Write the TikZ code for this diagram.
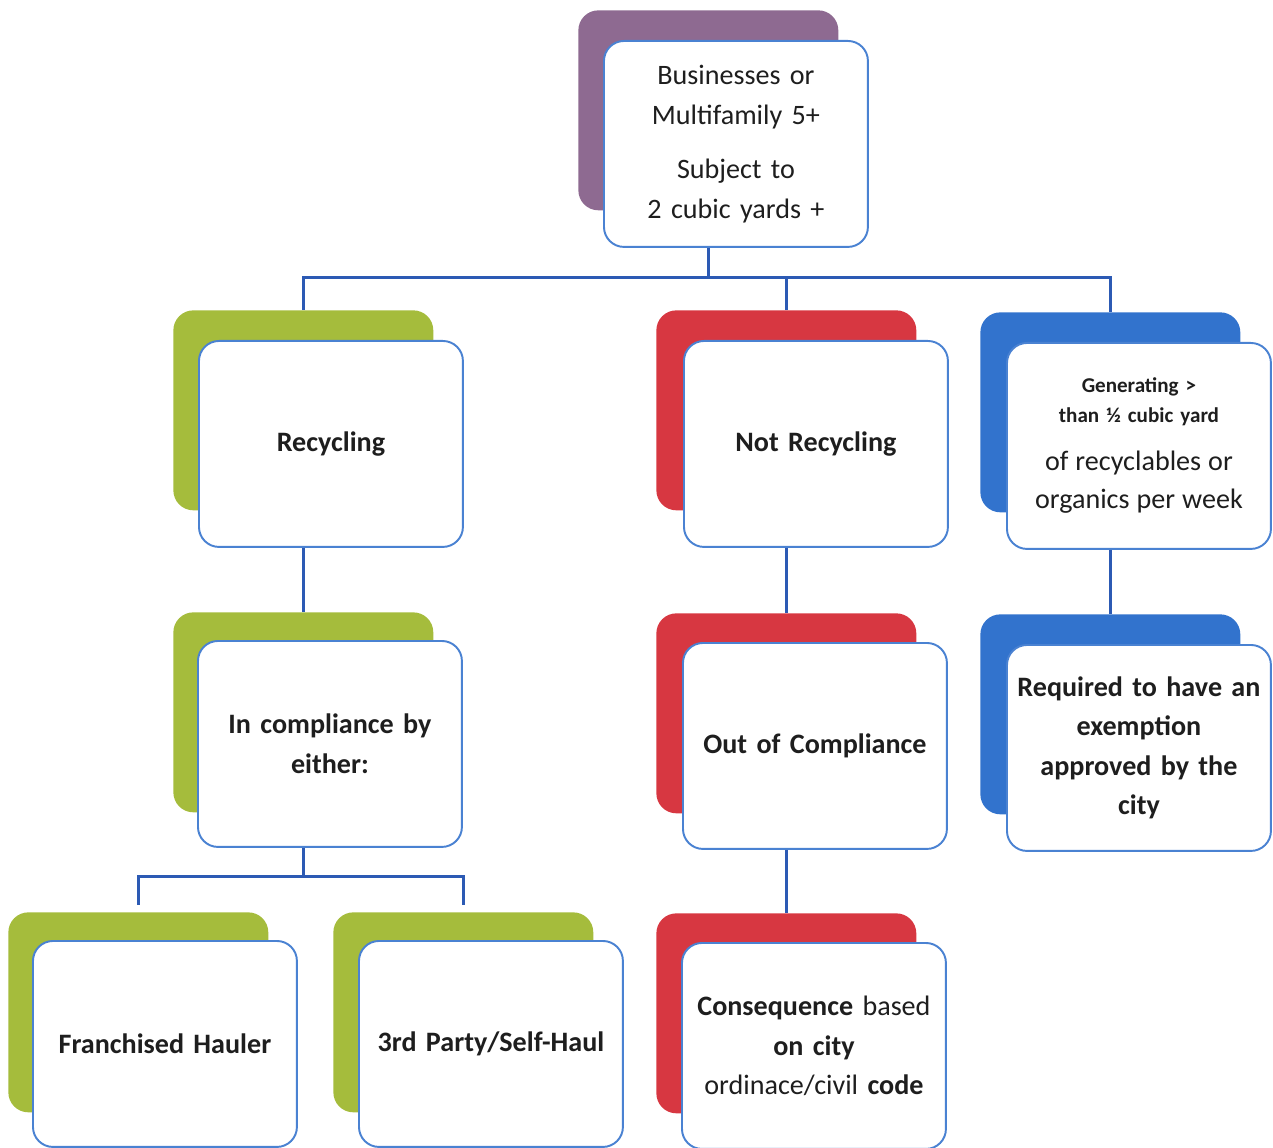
\documentclass[tikz,border=0pt]{standalone}
\usepackage{fontspec}
\usetikzlibrary{calc}
\setmainfont{Carlito}
\definecolor{cpurple}{HTML}{8E6A91}
\definecolor{cgreen}{HTML}{A5BC3C}
\definecolor{cred}{HTML}{D73741}
\definecolor{cblue}{HTML}{3273CD}
\definecolor{cline}{HTML}{2C5AB4}
\definecolor{cborder}{HTML}{4A82D2}
\definecolor{ctext}{HTML}{1E1E1E}
\tikzset{
  backbox/.style={fill=#1, draw=none, rounded corners=0.4cm, anchor=north west,
    minimum width=5.2cm, minimum height=4.0cm, inner sep=0pt},
  frontbox/.style={fill=white, draw=cborder, line width=1.1pt, rounded corners=0.4cm,
    anchor=north west, minimum width=5.28cm, minimum height=4.12cm, inner sep=1pt,
    align=center, text width=5.2cm, text=ctext,
    font=\fontsize{16}{22.5}\selectfont},
  boldtext/.style={font=\fontsize{16}{22.5}\selectfont\bfseries},
  conn/.style={draw=cline, line width=1.7pt},
}
\begin{document}
\begin{tikzpicture}[x=0.02cm,y=-0.02cm]
\useasboundingbox (0,0) rectangle (1273,1148);
\clip (0,0) rectangle (1273,1148);
% back boxes
\node[backbox=cpurple] (topb) at (578,10) {};
\node[backbox=cgreen] (recb) at (173,310) {};
\node[backbox=cred] (notb) at (656,310) {};
\node[backbox=cblue] (genb) at (980,312) {};
\node[backbox=cgreen] (inb) at (173,612) {};
\node[backbox=cred] (outb) at (656,613) {};
\node[backbox=cblue] (reqb) at (980,614) {};
\node[backbox=cgreen] (frb) at (8,912) {};
\node[backbox=cgreen] (thb) at (333,912) {};
\node[backbox=cred] (conb) at (656,913) {};
% front boxes
\node[frontbox] (topf) at (603,40) {Businesses or\\Multifamily 5+\\[0.3cm]Subject to\\2 cubic yards +};
\node[frontbox,boldtext] (recf) at (198,340) {Recycling};
\node[frontbox,boldtext] (notf) at (683,340) {Not Recycling};
\node[frontbox,font=\fontsize{12}{22}\selectfont\bfseries] (genf) at (1006,342)
  {Generating >\\[-5pt]than ½ cubic yard\\[5pt]\fontsize{16}{22}\selectfont\mdseries of recyclables or\\organics per week};
\node[frontbox,boldtext] (inf) at (197,640) {In compliance by\\either:};
\node[frontbox,boldtext] (outf) at (682,642) {Out of Compliance};
\node[frontbox,boldtext] (reqf) at (1006,644) {Required to have an\\exemption\\approved by the\\city};
\node[frontbox,boldtext] (frf) at (32,940) {Franchised Hauler};
\node[frontbox,boldtext] (thf) at (358,940) {3rd Party/Self-Haul};
\node[frontbox] (conf) at (681,942) {\textbf{Consequence} based\\\textbf{on city}\\ordinace/civil \textbf{code}};
% connectors
\coordinate (j1) at ($(topb.center |- topf.south)+(0,30)$);
\draw[conn] (topb.center |- topf.south) -- (j1);
\draw[conn] (j1) -| (recb.north);
\draw[conn] (j1) -| (genb.north);
\draw[conn] (notb.north) -- (notb.north |- j1);
\draw[conn] (inb.north |- recf.south) -- (inb.north);
\draw[conn] (outb.north |- notf.south) -- (outb.north);
\draw[conn] (reqb.north |- genf.south) -- (reqb.north);
\draw[conn] (conb.north |- outf.south) -- (conb.north);
\coordinate (j2) at ($(inb.center |- inf.south)+(0,29)$);
\draw[conn] (inb.center |- inf.south) -- (j2);
\draw[conn] (j2) -| ($(frb.north)+(0,-7)$);
\draw[conn] (j2) -| ($(thb.north)+(0,-7)$);
\end{tikzpicture}
\end{document}
